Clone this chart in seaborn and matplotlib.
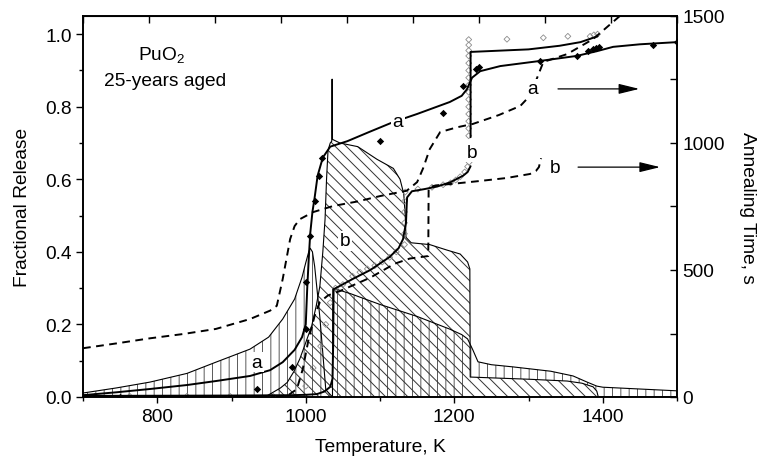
import numpy as np
import matplotlib
matplotlib.use('Agg')
import matplotlib.pyplot as plt
from matplotlib.ticker import MultipleLocator
import seaborn as sns

# fractional release, curve a (left axis)
a_temp = [700, 745, 790, 840, 879, 925, 952, 969, 985, 995, 1000, 1002, 1004, 1006, 1009, 1012,
          1016, 1023, 1033, 1056, 1085, 1117, 1150, 1194, 1210, 1217, 1224, 1235, 1262, 1315,
          1365, 1392, 1414, 1450, 1500]
a_frac = [0.005, 0.013, 0.022, 0.033, 0.044, 0.058, 0.074, 0.096, 0.13, 0.165, 0.2, 0.3, 0.38,
          0.45, 0.51, 0.55, 0.61, 0.66, 0.69, 0.705, 0.73, 0.757, 0.78, 0.813, 0.83, 0.848, 0.88,
          0.898, 0.912, 0.926, 0.94, 0.953, 0.965, 0.972, 0.978]

# fractional release, curve b (left axis), low part and part after the jump
b_temp = [700, 900, 980, 1000, 1015, 1025, 1033, 1036, 1037, 1037.5, 1045, 1063, 1087, 1113,
          1125, 1131, 1135, 1136, 1136.5, 1143, 1160, 1177, 1195, 1212, 1218, 1222]
b_frac = [0.003, 0.004, 0.005, 0.006, 0.008, 0.015, 0.028, 0.05, 0.15, 0.297, 0.305, 0.325,
          0.35, 0.386, 0.41, 0.435, 0.48, 0.53, 0.55, 0.567, 0.573, 0.58, 0.592, 0.61, 0.62, 0.636]
b2_temp = [1222, 1222, 1300, 1342, 1370, 1393]
b2_frac = [0.716, 0.951, 0.958, 0.968, 0.978, 0.994]

# release-rate envelopes (hatched areas)
ra_temp = [700, 745, 790, 840, 879, 925, 950, 969, 985, 995, 1000, 1004, 1006, 1009, 1012, 1015,
           1019, 1023, 1027, 1036, 1036.5, 1060, 1100, 1150, 1194, 1210, 1218, 1225, 1232, 1250,
           1279, 1330, 1360, 1379, 1392, 1400, 1450, 1500]
ra_val = [0.011, 0.025, 0.041, 0.065, 0.096, 0.132, 0.165, 0.215, 0.27, 0.33, 0.37, 0.40, 0.41,
          0.40, 0.36, 0.30, 0.22, 0.12, 0.02, 0.0, 0.30, 0.285, 0.255, 0.222, 0.187, 0.172, 0.16,
          0.13, 0.097, 0.089, 0.083, 0.071, 0.058, 0.041, 0.03, 0.027, 0.022, 0.017]
rb_temp = [700, 945, 956, 966, 975, 984, 992, 1000, 1008, 1014, 1019, 1023, 1026, 1028, 1030,
           1033, 1035, 1035.5, 1036, 1046, 1070, 1096, 1118, 1127, 1132, 1134, 1135, 1142, 1167,
           1190, 1208, 1218, 1221, 1221.5, 1260, 1300, 1352, 1372, 1387, 1392, 1394, 1500]
rb_val = [0.0, 0.0, 0.013, 0.025, 0.04, 0.07, 0.105, 0.15, 0.196, 0.25, 0.305, 0.40, 0.49, 0.6,
          0.68, 0.70, 0.705, 0.876, 0.71, 0.70, 0.69, 0.655, 0.63, 0.60, 0.56, 0.50, 0.44, 0.425,
          0.42, 0.405, 0.394, 0.372, 0.353, 0.055, 0.052, 0.049, 0.044, 0.038, 0.028, 0.016,
          0.0, 0.0]

# annealing time (right axis), dashed a and b
ta_temp = [700, 745, 790, 835, 879, 925, 952, 961, 969, 979, 985, 992, 1010, 1037, 1070, 1100,
           1136, 1150, 1158, 1167, 1181, 1204, 1225, 1260, 1289, 1300, 1311, 1320, 1352, 1387, 1423]
ta_time = [192, 211, 231, 248, 268, 307, 340, 359, 465, 622, 673, 700, 728, 752, 770, 791, 812,
           846, 900, 976, 1043, 1062, 1075, 1110, 1146, 1180, 1252, 1319, 1350, 1409, 1500]
tb_temp = [960, 975, 988, 996, 1004, 1012, 1019, 1030, 1046, 1087, 1120, 1140, 1165, 1165.5,
           1175, 1200, 1233, 1270, 1302, 1310, 1314, 1317]
tb_time = [0, 4, 31, 110, 230, 320, 374, 400, 417, 470, 525, 545, 555, 825, 833, 840, 850, 862,
           878, 890, 905, 940]

# measured points
a_pts_temp = [750, 934, 981, 1000, 1001, 1006, 1012, 1018, 1022, 1100, 1185, 1212, 1229, 1233,
              1315, 1365, 1380, 1387, 1391, 1395, 1468, 1500]
a_pts_frac = [0.0, 0.022, 0.083, 0.187, 0.316, 0.444, 0.54, 0.61, 0.66, 0.705, 0.782, 0.857,
              0.905, 0.91, 0.926, 0.94, 0.953, 0.958, 0.962, 0.965, 0.97, 0.978]
b_pts_temp = [716, 763, 840, 898, 956, 1000, 1010, 1020, 1027, 1033, 1040, 1050, 1063, 1073,
              1083, 1093, 1103, 1113, 1122, 1133, 1133, 1133, 1133, 1133, 1134, 1151, 1170, 1185,
              1195, 1202, 1208, 1214, 1218, 1220, 1219.5, 1219.5, 1219.5, 1219.5, 1219.5, 1219.5,
              1219.5, 1219.5, 1219.5, 1219.5, 1219.5, 1219.5, 1219.5, 1219.5, 1219.5, 1271, 1320,
              1353, 1383, 1388, 1393]
b_pts_frac = [0.002, 0.002, 0.002, 0.002, 0.002, 0.03, 0.08, 0.14, 0.2, 0.26, 0.30, 0.31, 0.333,
              0.344, 0.353, 0.362, 0.372, 0.385, 0.40, 0.42, 0.45, 0.48, 0.51, 0.54, 0.565, 0.573,
              0.578, 0.585, 0.59, 0.598, 0.607, 0.62, 0.635, 0.647, 0.72, 0.74, 0.76, 0.78, 0.80,
              0.82, 0.84, 0.86, 0.88, 0.90, 0.92, 0.94, 0.955, 0.97, 0.985, 0.986, 0.99, 0.994,
              0.994, 0.998, 1.0]

# curve labels: (text, temperature, value)
left_labels = [('a', 1124, 0.758), ('b', 1224, 0.675), ('b', 1053, 0.43), ('a', 934, 0.096)]
right_labels = [('a', 1305, 1213), ('b', 1336, 905)]
arrows = [(1336, 1453, 1213), (1363, 1481, 905)]

sns.set_style('ticks')
plt.rcParams['font.family'] = ['Liberation Sans', 'DejaVu Sans']
plt.rcParams['mathtext.fontset'] = 'custom'
plt.rcParams['mathtext.rm'] = 'Liberation Sans'
plt.rcParams['hatch.linewidth'] = 0.7
for key in ('text.color', 'axes.labelcolor', 'xtick.color', 'ytick.color', 'axes.edgecolor'):
    plt.rcParams[key] = 'black'
fs = 13.8

fig = plt.figure(figsize=(7.63, 4.60), dpi=100)
ax = fig.add_axes([83 / 763, 62 / 460, 594 / 763, 381 / 460])

# hatched rate areas
grid = np.union1d(np.union1d(ra_temp, rb_temp), np.linspace(700, 1500, 801))
ra_g = np.interp(grid, ra_temp, ra_val)
rb_g = np.interp(grid, rb_temp, rb_val)
floor = np.where(grid >= 1221.5, rb_g, 0.0)
ax.fill_between(grid, floor, ra_g, facecolor='none', edgecolor='0.35', hatch='||', linewidth=0, zorder=1)
ax.fill_between(grid, 0, rb_g, facecolor='none', edgecolor='0.2', hatch='\\\\\\', linewidth=0, zorder=1)

line_kw = dict(ax=ax, color='k', sort=False, estimator=None, legend=False)
sns.lineplot(x=ra_temp, y=ra_val, lw=0.8, zorder=2, **line_kw)
sns.lineplot(x=rb_temp, y=rb_val, lw=0.8, zorder=2, **line_kw)

sns.scatterplot(x=b_pts_temp, y=b_pts_frac, ax=ax, marker='D', s=9, facecolor='none',
                edgecolor='0.55', linewidth=0.6, zorder=3, legend=False)

sns.lineplot(x=a_temp, y=a_frac, lw=1.4, zorder=4, **line_kw)
sns.lineplot(x=b_temp, y=b_frac, lw=1.4, zorder=4, **line_kw)
sns.lineplot(x=b2_temp, y=b2_frac, lw=1.4, zorder=4, **line_kw)

sns.scatterplot(x=a_pts_temp, y=a_pts_frac, ax=ax, marker='D', s=14, color='k',
                linewidth=0, zorder=5, legend=False)

for txt, x, y in left_labels:
    ax.text(x, y, txt, fontsize=fs, ha='center', va='center', zorder=6,
            bbox=dict(boxstyle='square,pad=0.08', fc='white', ec='none'))

ax.text(806, 0.943, 'PuO$_2$', fontsize=fs, ha='center', va='center')
ax.text(810, 0.873, '25-years aged', fontsize=fs, ha='center', va='center')

ax.set_xlim(700, 1500)
ax.set_ylim(0, 1.05)
ax.set_xticks([800, 1000, 1200, 1400])
ax.xaxis.set_minor_locator(MultipleLocator(100))
ax.set_yticks([0.0, 0.2, 0.4, 0.6, 0.8, 1.0])
ax.yaxis.set_minor_locator(MultipleLocator(0.1))
ax.tick_params(axis='both', which='major', labelsize=fs, width=1, color='k')
ax.tick_params(axis='y', which='major', direction='out', length=5, pad=3)
ax.tick_params(axis='y', which='minor', direction='out', length=3, width=1)
ax.tick_params(axis='x', which='major', direction='out', length=4, pad=4)
ax.tick_params(axis='x', which='minor', direction='out', length=3, width=1)
ax.set_xlabel('Temperature, K', fontsize=fs, labelpad=9)
ax.set_ylabel('Fractional Release', fontsize=fs, labelpad=10)

top = ax.secondary_xaxis('top')
top.set_xticks(np.linspace(700, 1500, 10))
top.tick_params(direction='in', length=5, width=1, labeltop=False)

ax2 = ax.twinx()
sns.lineplot(x=ta_temp, y=ta_time, ax=ax2, color='k', lw=1.4, sort=False, estimator=None,
             legend=False, linestyle=(0, (4, 2.8)))
sns.lineplot(x=tb_temp, y=tb_time, ax=ax2, color='k', lw=1.4, sort=False, estimator=None,
             legend=False, linestyle=(0, (4, 2.8)))
for txt, x, y in right_labels:
    ax2.text(x, y, txt, fontsize=fs, ha='center', va='center', zorder=6,
             bbox=dict(boxstyle='square,pad=0.08', fc='white', ec='none'))
for x0, x1, y in arrows:
    ax2.annotate('', xy=(x1, y), xytext=(x0, y),
                 arrowprops=dict(arrowstyle='-|>,head_length=0.9,head_width=0.22',
                                 color='k', lw=0.9, mutation_scale=14))
ax2.set_ylim(0, 1500)
ax2.set_yticks([0, 500, 1000, 1500])
ax2.yaxis.set_minor_locator(MultipleLocator(250))
ax2.tick_params(axis='y', which='both', direction='in', length=5, width=1, labelsize=fs, pad=4)
ax2.set_ylabel('Annealing Time, s', fontsize=fs, rotation=270, labelpad=22)

for a_ in (ax, ax2):
    for sp in a_.spines.values():
        sp.set_linewidth(1.2)
        sp.set_color('k')

fig.savefig('out.png', dpi=100)
